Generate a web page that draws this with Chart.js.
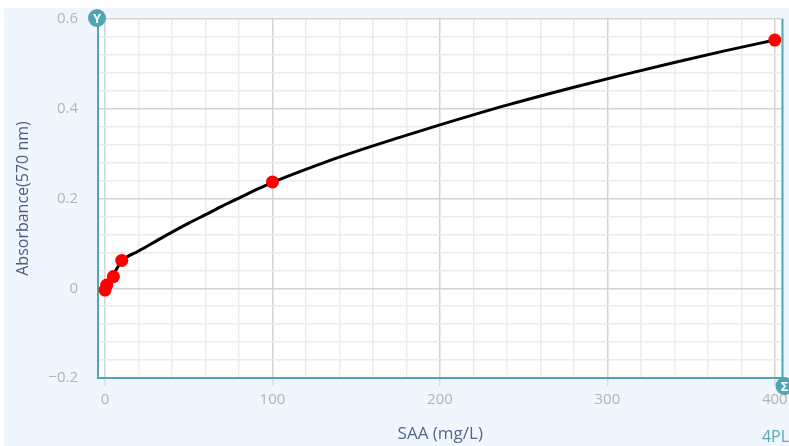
<!DOCTYPE html>
<html>
<head>
<meta charset="utf-8">
<script src="https://cdn.jsdelivr.net/npm/chart.js@4.4.1/dist/chart.umd.min.js"></script>
<style>
  html, body { margin: 0; padding: 0; background: #fff; }
</style>
</head>
<body>
<canvas id="chart_saa_standard" width="789" height="446"></canvas>
<script>
"use strict";

// standards (measured points)
const stdConc = [0, 1, 5, 10, 100, 400];
const stdAbs = [-0.004, 0.007, 0.026, 0.062, 0.237, 0.553];

// fitted 4PL curve
const fitConc = [0, 2, 5, 10, 20, 30, 40, 50, 60, 70, 80, 90, 100, 130, 150, 175, 200, 240, 280, 310, 340, 370, 400];
const fitAbs = [-0.003, 0.012, 0.031, 0.060, 0.083, 0.104, 0.125, 0.145, 0.164, 0.183, 0.201, 0.219, 0.236, 0.279, 0.305, 0.335, 0.364, 0.408, 0.448, 0.476, 0.503, 0.529, 0.553];

// tick positions
const xTicks = [0, 20, 40, 60, 80, 100, 120, 140, 160, 180, 200, 220, 240, 260, 280, 300, 320, 340, 360, 380, 400];
const yTicks = [-0.2, -0.16, -0.12, -0.08, -0.04, 0, 0.04, 0.08, 0.12, 0.16, 0.2, 0.24, 0.28, 0.32, 0.36, 0.4, 0.44, 0.48, 0.52, 0.56, 0.6];
const xLabels = [0, 100, 200, 300, 400];
const yLabels = [-0.2, 0, 0.2, 0.4, 0.6];

const TEAL = "#4fa6b2";
const FONT = "'Open Sans', 'Noto Sans', sans-serif";

const isMajor = (v, list) => list.some(l => Math.abs(l - v) < 1e-6);

const decorPlugin = {
    id: "decor",
    beforeDraw: chart => {
        const ctx = chart.ctx;
        const a = chart.chartArea;
        ctx.save();
        ctx.fillStyle = "#ffffff";
        ctx.fillRect(0, 0, chart.width, chart.height);
        ctx.fillStyle = "#eff6fd";
        ctx.fillRect(4, 8, chart.width - 4, chart.height - 8);
        ctx.fillStyle = "#ffffff";
        ctx.fillRect(a.left, a.top, a.right - a.left, a.bottom - a.top);
        ctx.restore();
    },
    afterDraw: chart => {
        const ctx = chart.ctx;
        const a = chart.chartArea;
        ctx.save();
        // right border
        ctx.strokeStyle = TEAL;
        ctx.lineWidth = 2;
        ctx.beginPath();
        ctx.moveTo(a.right, a.top);
        ctx.lineTo(a.right, a.bottom);
        ctx.stroke();

        // axis badges
        const badge = (x, y, letter) => {
            ctx.fillStyle = TEAL;
            ctx.beginPath();
            ctx.arc(x, y, 9, 0, Math.PI * 2);
            ctx.fill();
            ctx.fillStyle = "#ffffff";
            ctx.font = "bold 13px " + FONT;
            ctx.textAlign = "center";
            ctx.textBaseline = "middle";
            ctx.fillText(letter, x, y + 1);
        };
        badge(a.left - 1, a.top - 1, "Y");
        badge(a.right + 2, a.bottom + 8, "Σ");

        ctx.fillStyle = "#5aa9b6";
        ctx.font = "16px " + FONT;
        ctx.textAlign = "right";
        ctx.textBaseline = "middle";
        ctx.fillText("4PL", 789, 437);
        ctx.restore();
    }
};

const ctx = document.getElementById("chart_saa_standard").getContext("2d");

new Chart(ctx, {
    type: "scatter",
    data: {
        datasets: [
            {
                label: "Standards",
                data: stdConc.map((c, i) => ({ x: c, y: stdAbs[i] })),
                backgroundColor: "#ff0000",
                borderColor: "#ff0000",
                pointRadius: 6.5,
                pointHoverRadius: 6.5,
                borderWidth: 0,
                order: 0
            },
            {
                label: "4PL",
                type: "line",
                data: fitConc.map((c, i) => ({ x: c, y: fitAbs[i] })),
                borderColor: "#000000",
                borderWidth: 3,
                pointRadius: 0,
                fill: false,
                cubicInterpolationMode: "monotone",
                order: 1
            }
        ]
    },
    options: {
        responsive: false,
        animation: false,
        devicePixelRatio: 1,
        layout: { padding: { left: 4, top: 19, right: 2, bottom: 0 } },
        plugins: {
            legend: { display: false },
            tooltip: { enabled: false }
        },
        scales: {
            x: {
                type: "linear",
                min: -4.2,
                max: 404.6,
                afterBuildTicks: scale => { scale.ticks = xTicks.map(v => ({ value: v })); },
                afterFit: scale => {
                    scale.height = 68;
                    scale.paddingLeft = 0;
                    scale.paddingRight = 0;
                },
                ticks: {
                    autoSkip: false,
                    maxRotation: 0,
                    padding: 5,
                    color: "#b3b3b3",
                    font: { family: FONT, size: 15 },
                    callback: v => isMajor(v, xLabels) ? String(v) : ""
                },
                grid: {
                    color: c => isMajor(c.tick.value, xLabels) ? "#d3d3d3" : "#ebebeb",
                    tickColor: c => isMajor(c.tick.value, xLabels) ? "#cfe0ea" : "rgba(0,0,0,0)",
                    tickLength: 8,
                    lineWidth: 1.5
                },
                border: { color: TEAL, width: 2 },
                title: {
                    display: true,
                    text: "SAA (mg/L)",
                    color: "#56678a",
                    font: { family: FONT, size: 17 },
                    padding: { top: 0, bottom: 2 }
                }
            },
            y: {
                type: "linear",
                min: -0.2,
                max: 0.6,
                afterBuildTicks: scale => { scale.ticks = yTicks.map(v => ({ value: v })); },
                afterFit: scale => {
                    scale.width = 94;
                    scale.paddingTop = 0;
                    scale.paddingBottom = 0;
                },
                ticks: {
                    autoSkip: false,
                    padding: 20,
                    color: "#b3b3b3",
                    font: { family: FONT, size: 15 },
                    callback: v => {
                        if (!isMajor(v, yLabels)) return "";
                        if (Math.abs(v) < 1e-6) return "0";
                        const s = Math.abs(v).toFixed(1);
                        return v < 0 ? "\u2212" + s : s;
                    }
                },
                grid: {
                    color: c => isMajor(c.tick.value, yLabels) ? "#d3d3d3" : "#ebebeb",
                    drawTicks: false,
                    lineWidth: 1.5
                },
                border: { color: TEAL, width: 2 },
                title: {
                    display: true,
                    text: "Absorbance(570 nm)",
                    color: "#4b5c7f",
                    font: { family: FONT, size: 16 },
                    padding: { top: 10, bottom: 0 }
                }
            }
        }
    },
    plugins: [decorPlugin]
});
</script>
</body>
</html>
